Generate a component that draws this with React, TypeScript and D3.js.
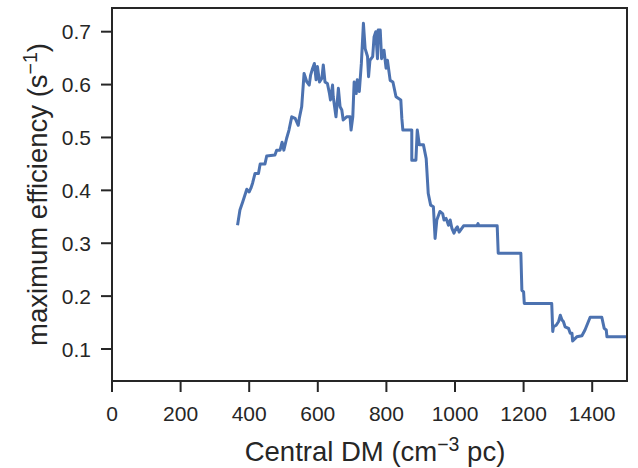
import React from "react";
import * as d3 from "d3";

const dmValues = [
  366, 373, 381, 393, 400, 405, 410, 417, 427, 432, 446, 451, 475, 480, 490, 496, 501, 509, 516, 524,
  534, 543, 546, 553, 560, 568, 575, 579, 585, 590, 595, 599, 605, 612, 616, 621, 628, 634, 637, 643,
  645, 653, 660, 665, 670, 674, 684, 694, 697, 702, 706, 712, 715, 721, 727, 733, 738, 745, 748, 752,
  760, 764, 769, 774, 776, 782, 786, 793, 799, 803, 811, 819, 828, 842, 845, 848, 874, 874, 886, 890,
  896, 908, 916, 922, 929, 937, 942, 947, 956, 964, 968, 974, 981, 986, 991, 997, 1003, 1007, 1012, 1025,
  1064, 1067, 1070, 1123, 1126, 1192, 1195, 1200, 1202, 1282, 1285, 1287, 1295, 1302, 1307, 1312, 1316, 1321, 1331, 1336,
  1341, 1343, 1355, 1370, 1379, 1394, 1428, 1435, 1441, 1443, 1501,
];

const efficiencyValues = [
  0.334, 0.363, 0.378, 0.402, 0.397, 0.404, 0.414, 0.432, 0.432, 0.45, 0.45, 0.465, 0.467, 0.476, 0.476, 0.491, 0.476, 0.498, 0.514, 0.539,
  0.536, 0.523, 0.536, 0.558, 0.621, 0.605, 0.599, 0.618, 0.631, 0.64, 0.609, 0.634, 0.605, 0.612, 0.637, 0.605, 0.602, 0.583, 0.571, 0.599,
  0.577, 0.539, 0.593, 0.558, 0.552, 0.533, 0.539, 0.539, 0.514, 0.539, 0.605, 0.583, 0.609, 0.587, 0.64, 0.716, 0.668, 0.653, 0.615, 0.646,
  0.653, 0.69, 0.7, 0.649, 0.703, 0.703, 0.649, 0.665, 0.631, 0.646, 0.608, 0.605, 0.577, 0.571, 0.536, 0.514, 0.514, 0.457, 0.457, 0.514,
  0.486, 0.486, 0.46, 0.394, 0.372, 0.369, 0.309, 0.344, 0.36, 0.356, 0.344, 0.347, 0.334, 0.344, 0.328, 0.319, 0.328, 0.331, 0.321, 0.333,
  0.333, 0.337, 0.333, 0.333, 0.281, 0.281, 0.211, 0.208, 0.186, 0.186, 0.133, 0.142, 0.145, 0.152, 0.164, 0.155, 0.152, 0.142, 0.139, 0.13,
  0.13, 0.115, 0.123, 0.125, 0.136, 0.16, 0.16, 0.139, 0.136, 0.123, 0.123,
];

const xTicks = [0, 200, 400, 600, 800, 1000, 1200, 1400];
const yTicks = [0.1, 0.2, 0.3, 0.4, 0.5, 0.6, 0.7];

const W = 638;
const H = 468;
const M = { left: 112, right: 11, top: 8, bottom: 87 };
const TEXT = "#262626";
const FONT = "'Liberation Sans', Arial, sans-serif";

export default function App() {
  const x = d3.scaleLinear().domain([0, 1500]).range([M.left, 626.5]);
  const y = d3.scaleLinear().domain([0.0395, 0.7448]).range([H - M.bottom, M.top]);
  const pts: [number, number][] = dmValues.map((d, i) => [d, efficiencyValues[i]]);
  const line = d3
    .line<[number, number]>()
    .x((d) => x(d[0]))
    .y((d) => y(d[1]));
  const x0 = M.left;
  const x1 = W - M.right;
  const y0 = H - M.bottom;
  const y1 = M.top;
  const tickLen = 11;
  return (
    <svg
      width={W}
      height={H}
      style={{ position: "absolute", left: 0, top: 0, background: "#fff" }}
      fontFamily={FONT}
    >
      <defs>
        <clipPath id="plot">
          <rect x={x0} y={y1} width={x1 - x0} height={y0 - y1} />
        </clipPath>
      </defs>
      <path
        d={line(pts) || ""}
        fill="none"
        stroke="#4c72b0"
        strokeWidth={3}
        strokeLinejoin="round"
        strokeLinecap="butt"
        clipPath="url(#plot)"
      />
      <rect x={x0} y={y1} width={x1 - x0} height={y0 - y1} fill="none" stroke={TEXT} strokeWidth={2} />
      {xTicks.map((t) => (
        <g key={"x" + t}>
          <line x1={x(t)} x2={x(t)} y1={y0} y2={y0 + tickLen} stroke={TEXT} strokeWidth={2} />
          <text x={x(t)} y={y0 + 40} textAnchor="middle" fontSize={21} fill={TEXT}>
            {t}
          </text>
        </g>
      ))}
      {yTicks.map((t) => (
        <g key={"y" + t}>
          <line x1={x0 - tickLen} x2={x0} y1={y(t)} y2={y(t)} stroke={TEXT} strokeWidth={2} />
          <text x={x0 - tickLen - 10} y={y(t)} dy="0.36em" textAnchor="end" fontSize={21} fill={TEXT}>
            {t.toFixed(1)}
          </text>
        </g>
      ))}
      <text x={375} y={461} textAnchor="middle" fontSize={27.5} fill={TEXT}>
        Central DM (cm
        <tspan fontSize={19.5} dy={-10}>−3</tspan>
        <tspan dy={10}> pc)</tspan>
      </text>
      <text
        transform={`translate(46.5, ${(y0 + y1) / 2}) rotate(-90)`}
        textAnchor="middle"
        fontSize={27.5}
        fill={TEXT}
      >
        maximum efficiency (s
        <tspan fontSize={19.5} dy={-10}>−1</tspan>
        <tspan dy={10}>)</tspan>
      </text>
    </svg>
  );
}
